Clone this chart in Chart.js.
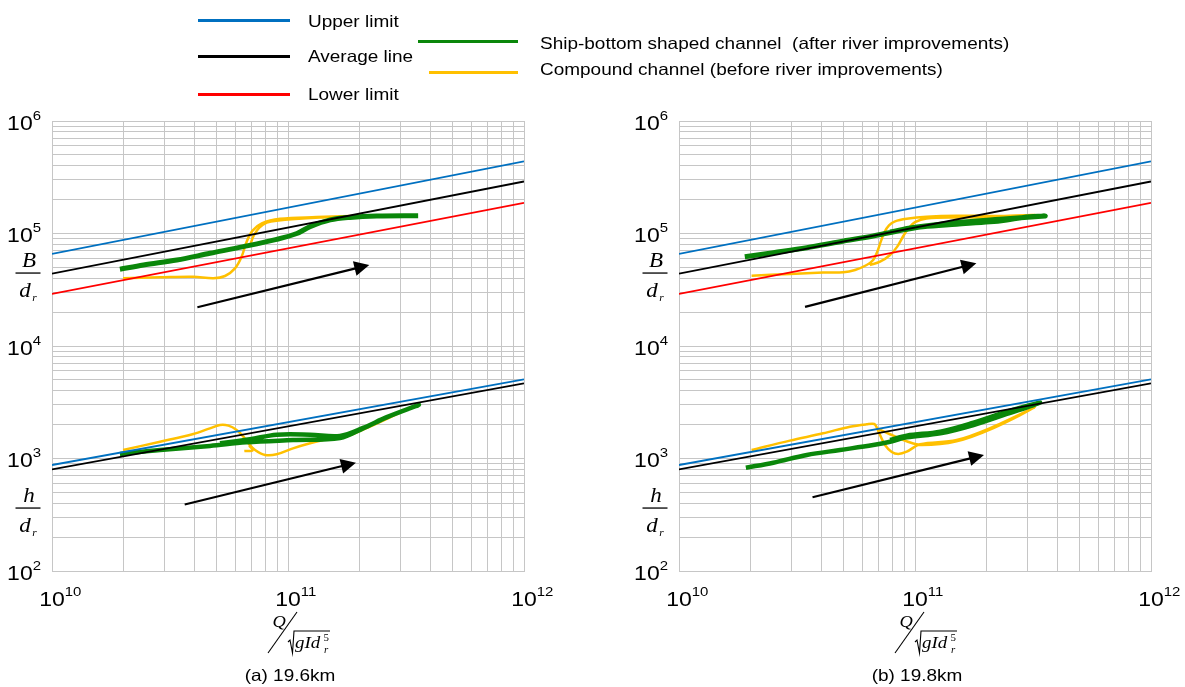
<!DOCTYPE html>
<html>
<head>
<meta charset="utf-8">
<title>B/dr and h/dr against Q/sqrt(gId_r^5)</title>
<script src="https://cdn.jsdelivr.net/npm/chart.js"></script>
<style>
    body {
        margin: 0;
        background: #fff;
        font-family: Arial, "Liberation Sans", sans-serif;
    }
    #page { position: relative; width: 1185px; height: 687px; overflow: hidden; }
    #wrapA { position: absolute; left: 0; top: 0; }
    #wrapB { position: absolute; left: 600px; top: 0; }
    .key { position: absolute; height: 3px; }
    .keyText {
        position: absolute; font-size: 16.5px; line-height: 20px; color: #000; white-space: nowrap;
        transform: scaleX(1.15); transform-origin: left center;
    }
</style>
</head>
<body>
<div id="page">
    <div id="wrapA"><canvas id="chartA" width="600" height="687"></canvas></div>
    <div id="wrapB"><canvas id="chartB" width="585" height="687"></canvas></div>
    <div id="legend"></div>
</div>

<script>
// axis ranges and labelled ticks
var xMajor = [1e10, 1e11, 1e12];
var yMajor = [1e2, 1e3, 1e4, 1e5, 1e6];

// straight reference lines (same on both panels)
var limitX = [1e10, 1e12];
var upperB = [6.6e4, 4.38e5];
var averageB = [4.4e4, 2.9e5];
var lowerB = [2.9e4, 1.87e5];
var upperH = [875, 5050];
var averageH = [800, 4650];

// (a) 19.6km  -- [Q/sqrt(gId^5), value]
var aGreenB = [[1.94e10, 4.81e4], [2.44e10, 5.25e4], [3.38e10, 5.81e4], [4.67e10, 6.67e4], [6.47e10, 7.64e4],
    [8.95e10, 8.87e4], [1.09e11, 1.0e5], [1.24e11, 1.15e5], [1.51e11, 1.32e5], [1.83e11, 1.39e5],
    [2.38e11, 1.43e5], [3.56e11, 1.44e5]];
var aYellowB = [[2.0e10, 4.0e4], [2.87e10, 4.08e4], [3.97e10, 4.13e4], [4.83e10, 4.0e4], [5.41e10, 4.19e4],
    [5.96e10, 4.9e4], [6.36e10, 6.22e4], [6.68e10, 8.45e4], [7.08e10, 1.06e5], [7.74e10, 1.23e5],
    [9.25e10, 1.35e5], [1.32e11, 1.40e5], [2.02e11, 1.44e5], [1.41e11, 1.39e5], [8.95e10, 1.30e5],
    [8.13e10, 1.25e5], [7.56e10, 1.13e5], [7.18e10, 9.7e4], [6.95e10, 8.18e4]];
var aGreenH = [[1.94e10, 1097], [2.87e10, 1190], [4.67e10, 1292], [6.64e10, 1393], [1.05e11, 1459],
    [1.66e11, 1520], [2.08e11, 1854], [2.62e11, 2322], [3.59e11, 2990], [2.62e11, 2330], [2.08e11, 1870],
    [1.66e11, 1585], [1.24e11, 1629], [8.95e10, 1629], [6.9e10, 1483], [5.15e10, 1365]];
var aYellowH = [[2.0e10, 1190], [2.87e10, 1410], [3.97e10, 1652], [4.67e10, 1854], [5.15e10, 1985],
    [5.59e10, 1959], [6.06e10, 1791], [6.47e10, 1563], [6.79e10, 1365], [7.25e10, 1190], [8.0e10, 1075],
    [8.95e10, 1089], [1.05e11, 1230], [1.24e11, 1365], [1.46e11, 1483], [1.75e11, 1560], [2.2e11, 1900],
    [2.99e11, 2560], [3.21e11, 2737]];
var aYellowHook = [[6.53e10, 1167], [7.08e10, 1183], [6.85e10, 1300]];
var aArrows = [[4.13e10, 2.21e4, 2.21e11, 5.25e4], [3.65e10, 390, 1.94e11, 918]];

// (b) 19.8km
var bGreenB = [[1.9e10, 6.22e4], [2.51e10, 6.76e4], [3.48e10, 7.48e4], [4.81e10, 8.46e4], [6.65e10, 9.5e4],
    [9.22e10, 1.09e5], [1.08e11, 1.15e5], [1.5e11, 1.21e5], [2.08e11, 1.27e5], [2.45e11, 1.32e5],
    [2.88e11, 1.39e5], [3.56e11, 1.43e5], [2.45e11, 1.35e5], [1.5e11, 1.25e5], [9.84e10, 1.13e5],
    [7.84e10, 1.03e5]];
var bYellowB = [[2.03e10, 4.22e4], [2.95e10, 4.37e4], [4.08e10, 4.49e4], [4.97e10, 4.52e4], [5.57e10, 4.74e4],
    [6.24e10, 5.25e4], [6.65e10, 5.81e4], [6.92e10, 6.89e4], [7.16e10, 8.46e4], [7.41e10, 1.02e5],
    [7.76e10, 1.18e5], [8.23e10, 1.28e5], [9.22e10, 1.35e5], [1.12e11, 1.41e5], [1.5e11, 1.44e5],
    [2.29e11, 1.43e5], [3.22e11, 1.46e5], [2.29e11, 1.39e5], [1.5e11, 1.39e5], [1.12e11, 1.36e5],
    [1.0e11, 1.26e5], [9.38e10, 1.11e5], [8.92e10, 9.5e4], [8.41e10, 7.64e4], [7.84e10, 6.44e4],
    [7.11e10, 5.61e4], [6.44e10, 5.25e4]];
var bGreenH = [[1.92e10, 828], [2.51e10, 918], [3.48e10, 1075], [4.81e10, 1190], [6.65e10, 1318],
    [7.84e10, 1410], [9.22e10, 1542], [1.28e11, 1674], [1.77e11, 1985], [2.45e11, 2488], [3.39e11, 3137],
    [2.45e11, 2606], [1.77e11, 2081], [1.28e11, 1733], [9.22e10, 1596], [7.84e10, 1459]];
var bYellowH = [[2.03e10, 1190], [2.95e10, 1442], [4.08e10, 1674], [5.3e10, 1918], [6.24e10, 2014],
    [6.72e10, 2027], [6.88e10, 1892], [7.11e10, 1618], [7.46e10, 1318], [7.97e10, 1143], [8.5e10, 1097],
    [9.22e10, 1149], [1.05e11, 1337], [1.5e11, 1459], [2.15e11, 1918], [3.22e11, 2851], [2.15e11, 1866],
    [1.5e11, 1422], [1.07e11, 1318], [9.22e10, 1422], [8.09e10, 1596], [7.23e10, 1766], [6.88e10, 1866]];
var bYellowHook = [];
var bArrows = [[3.42e10, 2.23e4, 1.82e11, 5.43e4], [3.68e10, 452, 1.96e11, 1075]];

var BLUE = "#0070c0", RED = "#ff0000", GREEN = "#0a870a", YELLOW = "#ffc000";
var SANS = 'Arial, "Liberation Sans", sans-serif';
var SERIF = '"Times New Roman", "Liberation Serif", serif';
var SX = 1.15; // the original text is a little wide

// legend across the top
var legendItems = [
    { color: BLUE, x: 198, w: 92, y: 20, ty: 22, text: "Upper limit", tx: 308 },
    { color: "#000", x: 198, w: 92, y: 56, ty: 57, text: "Average line", tx: 308 },
    { color: RED, x: 198, w: 92, y: 94, ty: 94.5, text: "Lower limit", tx: 308 },
    { color: GREEN, x: 418, w: 100, y: 41.5, ty: 43.5, text: "Ship-bottom shaped channel  (after river improvements)", tx: 540 },
    { color: YELLOW, x: 429, w: 89, y: 72.5, ty: 70, text: "Compound channel (before river improvements)", tx: 540 }
];
var legendHtml = "";
legendItems.forEach(function(it) {
    legendHtml += '<div class="key" style="left:' + it.x + 'px;top:' + (it.y - 1.5) + 'px;width:' + it.w +
        'px;background:' + it.color + '"></div>';
    legendHtml += '<div class="keyText" style="left:' + it.tx + 'px;top:' + (it.ty - 11) + 'px">' +
        it.text.replace(/  /g, " &nbsp;") + '</div>';
});
document.getElementById("legend").innerHTML = legendHtml;

function toPoints(list) {
    return list.map(function(p) { return { x: p[0], y: p[1] }; });
}

function lineSet(xs, ys, color, width, order) {
    return {
        data: xs.map(function(x, i) { return { x: x, y: ys[i] }; }),
        borderColor: color, borderWidth: width, order: order, tension: 0
    };
}

function curveSet(list, color, width, order) {
    return { data: toPoints(list), borderColor: color, borderWidth: width, order: order, tension: 0.35 };
}

function gridValues(major) {
    var out = [];
    major.forEach(function(m, i) {
        if (i === major.length - 1) { out.push(m); return; }
        for (var k = 1; k <= 9; k++) out.push(m * k);
    });
    return out;
}

function expOf(v) { return String(Math.round(Math.log10(v))); }

// stretched text
function txt(ctx, s, x, y, align) {
    ctx.save();
    ctx.translate(x, y);
    ctx.scale(SX, 1);
    ctx.textAlign = align;
    ctx.fillText(s, 0, 0);
    ctx.restore();
}

function drawArrow(ctx, xs, ys, a) {
    var x0 = xs.getPixelForValue(a[0]), y0 = ys.getPixelForValue(a[1]);
    var x1 = xs.getPixelForValue(a[2]), y1 = ys.getPixelForValue(a[3]);
    var ang = Math.atan2(y1 - y0, x1 - x0);
    var hl = 15, hw = 7.5;
    var bx = x1 - hl * Math.cos(ang), by = y1 - hl * Math.sin(ang);
    ctx.strokeStyle = "#000";
    ctx.fillStyle = "#000";
    ctx.lineWidth = 2.2;
    ctx.beginPath();
    ctx.moveTo(x0, y0);
    ctx.lineTo(bx + 2 * Math.cos(ang), by + 2 * Math.sin(ang));
    ctx.stroke();
    ctx.beginPath();
    ctx.moveTo(x1, y1);
    ctx.lineTo(bx + hw * Math.sin(ang), by - hw * Math.cos(ang));
    ctx.lineTo(bx - hw * Math.sin(ang), by + hw * Math.cos(ang));
    ctx.closePath();
    ctx.fill();
}

// y fraction  top / d_r
function drawFraction(ctx, cx, lineY, top) {
    ctx.textBaseline = "alphabetic";
    ctx.font = "italic 20px " + SERIF;
    txt(ctx, top, cx + 1, lineY - 6, "center");
    ctx.fillRect(cx - 12.5, lineY - 0.6, 25, 1.3);
    txt(ctx, "d", cx - 3, lineY + 24, "center");
    ctx.font = "italic 10px " + SERIF;
    txt(ctx, "r", cx + 6.5, lineY + 28, "center");
}

var decorPlugin = {
    id: "decor",
    afterDatasetsDraw: function(chart, args, opts) {
        var ctx = chart.ctx, xs = chart.scales.x, ys = chart.scales.y;
        ctx.save();
        opts.arrows.forEach(function(a) { drawArrow(ctx, xs, ys, a); });
        ctx.restore();
    },
    afterDraw: function(chart, args, opts) {
        var ctx = chart.ctx, xs = chart.scales.x, ys = chart.scales.y, area = chart.chartArea;
        ctx.save();
        ctx.fillStyle = "#000";
        ctx.strokeStyle = "#000";
        ctx.textBaseline = "middle";

        // y tick labels 10^n
        yMajor.forEach(function(v) {
            var y = ys.getPixelForValue(v);
            var e = expOf(v);
            ctx.font = "13px " + SANS;
            var ew = ctx.measureText(e).width * SX;
            var right = area.left - 11;
            ctx.font = "20px " + SANS;
            txt(ctx, "10", right - ew, y + 3, "right");
            ctx.font = "13px " + SANS;
            txt(ctx, e, right - ew, y - 5, "left");
        });

        // x tick labels 10^n
        xMajor.forEach(function(v) {
            var x = xs.getPixelForValue(v);
            ctx.font = "20px " + SANS;
            txt(ctx, "10", x, area.bottom + 29, "center");
            var bw = ctx.measureText("10").width * SX;
            ctx.font = "13px " + SANS;
            txt(ctx, expOf(v), x + bw / 2, area.bottom + 21, "left");
        });

        // y fractions
        drawFraction(ctx, area.left - 24, area.top + 152, "B");
        drawFraction(ctx, area.left - 24, area.top + 387, "h");

        // x title  Q / sqrt(g I d_r^5)
        var cx = (area.left + area.right) / 2, b = area.bottom;
        ctx.textBaseline = "alphabetic";
        ctx.font = "italic 16px " + SERIF;
        txt(ctx, "Q", cx - 15.5, b + 56, "left");
        ctx.lineWidth = 1.1;
        ctx.beginPath();
        ctx.moveTo(cx - 20, b + 82);
        ctx.lineTo(cx + 9, b + 41);
        ctx.stroke();
        ctx.beginPath();
        ctx.moveTo(cx, b + 71);
        ctx.lineTo(cx + 2, b + 69);
        ctx.lineTo(cx + 4.5, b + 82);
        ctx.lineTo(cx + 6, b + 60);
        ctx.lineTo(cx + 42, b + 60);
        ctx.stroke();
        ctx.font = "italic 16.5px " + SERIF;
        txt(ctx, "gId", cx + 7, b + 77, "left");
        ctx.font = "9.5px " + SERIF;
        txt(ctx, "5", cx + 35.5, b + 70, "left");
        ctx.font = "italic 9.5px " + SERIF;
        txt(ctx, "r", cx + 36, b + 82, "left");

        // caption
        ctx.font = "16.5px " + SANS;
        ctx.textBaseline = "middle";
        txt(ctx, opts.caption, cx + 2, 676, "center");
        ctx.restore();
    }
};

function makeChart(id, pad, sets, arrows, caption) {
    var xGrid = gridValues(xMajor), yGrid = gridValues(yMajor);
    return new Chart(document.getElementById(id), {
        type: "scatter",
        data: {
            datasets: [
                lineSet(limitX, upperB, BLUE, 1.8, 1),
                lineSet(limitX, averageB, "#000", 1.8, 1),
                lineSet(limitX, lowerB, RED, 1.8, 1),
                lineSet(limitX, upperH, BLUE, 1.8, 1),
                lineSet(limitX, averageH, "#000", 1.8, 1),
                curveSet(sets.greenB, GREEN, 5, 2),
                curveSet(sets.greenH, GREEN, 4.5, 2),
                curveSet(sets.yellowB, YELLOW, 2.5, 3),
                curveSet(sets.yellowH, YELLOW, 2.5, 3),
                curveSet(sets.hook, YELLOW, 2.5, 3)
            ]
        },
        options: {
            responsive: false,
            animation: false,
            showLine: true,
            elements: { point: { radius: 0, hoverRadius: 0 } },
            layout: { padding: pad },
            plugins: {
                legend: { display: false },
                tooltip: { enabled: false },
                decor: { arrows: arrows, caption: caption }
            },
            scales: {
                x: {
                    type: "logarithmic", min: 1e10, max: 1e12,
                    afterBuildTicks: function(axis) {
                        axis.ticks = xGrid.map(function(v) { return { value: v }; });
                    },
                    ticks: { display: false },
                    grid: { color: "#c6c6c6", lineWidth: 1, drawTicks: false },
                    border: { color: "#c6c6c6" }
                },
                y: {
                    type: "logarithmic", min: 1e2, max: 1e6,
                    afterBuildTicks: function(axis) {
                        axis.ticks = yGrid.map(function(v) { return { value: v }; });
                    },
                    ticks: { display: false },
                    grid: { color: "#c6c6c6", lineWidth: 1, drawTicks: false },
                    border: { color: "#c6c6c6" }
                }
            }
        },
        plugins: [decorPlugin]
    });
}

makeChart("chartA", { left: 52, right: 76, top: 121, bottom: 116 },
    { greenB: aGreenB, greenH: aGreenH, yellowB: aYellowB, yellowH: aYellowH, hook: aYellowHook },
    aArrows, "(a) 19.6km");
makeChart("chartB", { left: 79, right: 34, top: 121, bottom: 116 },
    { greenB: bGreenB, greenH: bGreenH, yellowB: bYellowB, yellowH: bYellowH, hook: bYellowHook },
    bArrows, "(b) 19.8km");
</script>
</body>
</html>
